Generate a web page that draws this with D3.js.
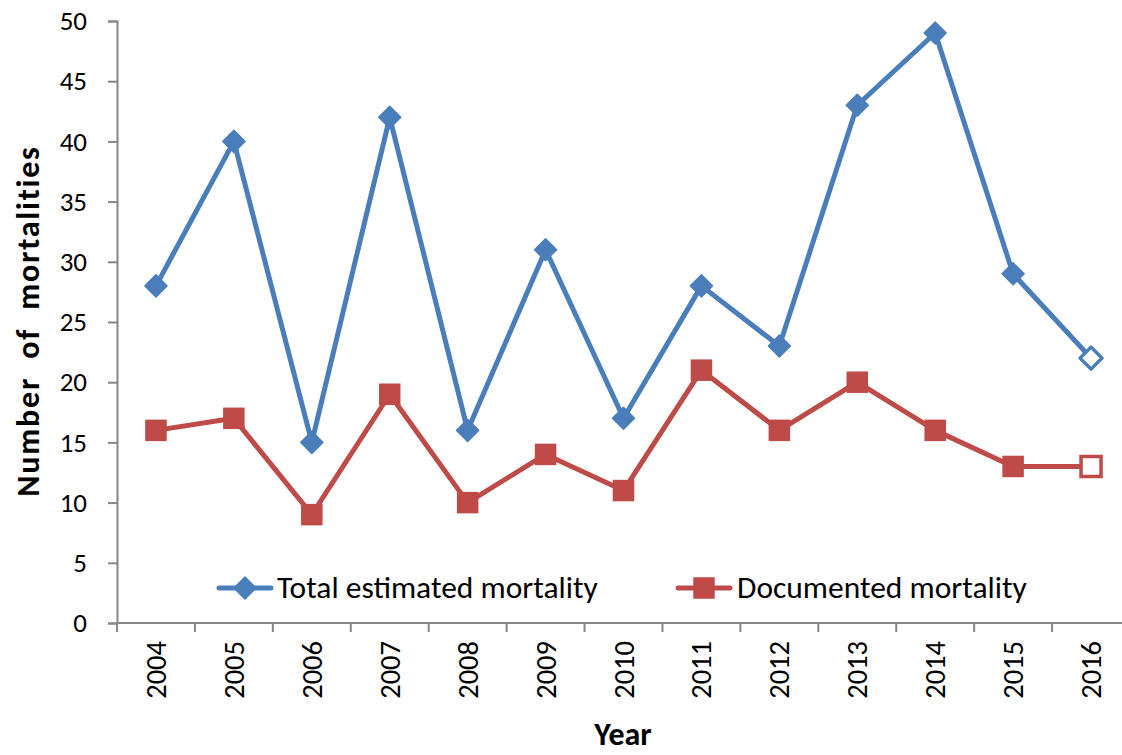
<!DOCTYPE html>
<html><head><meta charset="utf-8">
<script src="https://cdn.jsdelivr.net/npm/d3@7"></script>
<style>body{margin:0;background:#fff}svg{display:block}</style>
</head><body>
<svg id="c" width="1122" height="755"></svg>
<script>
const years = ["2004","2005","2006","2007","2008","2009","2010","2011","2012","2013","2014","2015","2016"];
const totalEstimated = [28,40,15,42,16,31,17,28,23,43,49,29,22];
const documented = [16,17,9,19,10,14,11,21,16,20,16,13,13];
const yTicks = [0,5,10,15,20,25,30,35,40,45,50];
const seriesNames = ["Total estimated mortality","Documented mortality"];

const font = "Calibri, Carlito, Lato, sans-serif";
const svg = d3.select("#c");
const blue = "#4A7EBB", red = "#BE4B48", axisCol = "#868686";

const x = d3.scaleBand().domain(years).range([117, 1130]);
const y = d3.scaleLinear().domain([0,50]).range([623, 21]);

// y axis
const ya = svg.append("g").attr("transform","translate(117,0)")
  .call(d3.axisLeft(y).tickValues(yTicks).tickSize(9).tickPadding(21));
ya.select(".domain").attr("stroke",axisCol).attr("stroke-width",2);
ya.selectAll(".tick line").attr("stroke",axisCol).attr("stroke-width",2);
ya.selectAll(".tick text").attr("font-family",font).attr("font-size",27).attr("fill","#000");

// x axis
const xa = svg.append("g").attr("transform","translate(0,623)");
xa.append("line").attr("x1",117).attr("x2",1130).attr("y1",0).attr("y2",0).attr("stroke",axisCol).attr("stroke-width",2);
const bounds = years.map(d=>x(d)).concat([x.range()[1]]);
xa.selectAll("line.t").data(bounds).join("line").attr("class","t")
  .attr("x1",d=>d).attr("x2",d=>d).attr("y1",0).attr("y2",9).attr("stroke",axisCol).attr("stroke-width",2);
xa.selectAll("text").data(years).join("text")
  .attr("transform",d=>`translate(${x(d)+x.bandwidth()/2+10},18) rotate(-90)`)
  .attr("text-anchor","end").attr("font-family",font).attr("font-size",28.5).attr("fill","#000").text(d=>d);

// axis titles
svg.append("text").attr("transform","translate(39,321) rotate(-90)").attr("text-anchor","middle")
  .attr("font-family",font).attr("font-size",32).attr("font-weight","bold").attr("letter-spacing",1.8)
  .attr("xml:space","preserve").text("Number  of  mortalities");
svg.append("text").attr("x",623).attr("y",745).attr("text-anchor","middle")
  .attr("font-family",font).attr("font-size",32).attr("font-weight","bold").text("Year");

const cx = d=>x(d)+x.bandwidth()/2;
const line = d3.line().x(d=>cx(d.year)).y(d=>y(d.v));
const tData = years.map((yr,i)=>({year:yr,v:totalEstimated[i]}));
const dData = years.map((yr,i)=>({year:yr,v:documented[i]}));

svg.append("path").datum(tData).attr("d",line).attr("fill","none").attr("stroke",blue).attr("stroke-width",5).attr("stroke-linejoin","round");
svg.append("path").datum(dData).attr("d",line).attr("fill","none").attr("stroke",red).attr("stroke-width",5).attr("stroke-linejoin","round");

const diamond = (g,px,py,hollow)=>{
  g.append("path").attr("d",`M${px},${py-11}L${px+11},${py}L${px},${py+11}L${px-11},${py}Z`)
   .attr("fill",hollow?"#fff":blue).attr("stroke",blue).attr("stroke-width",hollow?3.5:1.5).attr("stroke-linejoin","round");
};
const square = (g,px,py,hollow)=>{
  g.append("rect").attr("x",px-10).attr("y",py-10).attr("width",20).attr("height",20)
   .attr("fill",hollow?"#fff":red).attr("stroke",red).attr("stroke-width",hollow?3.5:1.5);
};
const mg = svg.append("g");
tData.forEach((d,i)=>diamond(mg,cx(d.year),y(d.v),i===tData.length-1));
dData.forEach((d,i)=>square(mg,cx(d.year),y(d.v),i===dData.length-1));

// legend
const lg = svg.append("g");
lg.append("line").attr("x1",219).attr("x2",271).attr("y1",588).attr("y2",588).attr("stroke",blue).attr("stroke-width",5).attr("stroke-linecap","round");
diamond(lg,245,588,false);
lg.append("text").attr("x",277).attr("y",598).attr("font-family",font).attr("font-size",31.5).attr("fill","#000").text(seriesNames[0]);
lg.append("line").attr("x1",678).attr("x2",730).attr("y1",588).attr("y2",588).attr("stroke",red).attr("stroke-width",5).attr("stroke-linecap","round");
square(lg,704,588,false);
lg.append("text").attr("x",737).attr("y",598).attr("font-family",font).attr("font-size",31.5).attr("fill","#000").text(seriesNames[1]);
</script>
</body></html>
